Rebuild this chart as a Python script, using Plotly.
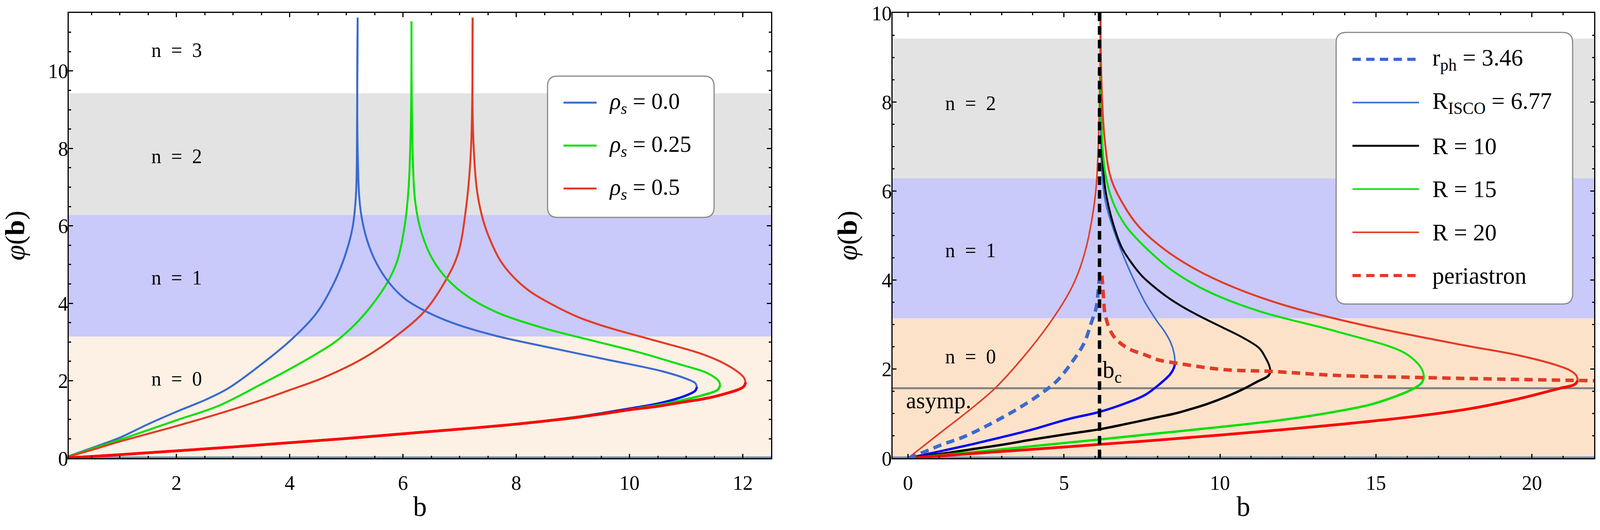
import plotly.graph_objects as go
from plotly.subplots import make_subplots

W, H = 4208, 1358
MT, MB = 33, 184
FONT = "Liberation Serif"

# colours
ROYAL = "#3A6ACF"
THIN_RED = "#E23B25"
GREEN = "#00E000"
PURE_BLUE = "#0000FF"
PURE_RED = "#FF0000"
AXIS0 = "#7088B8"

# bands n = 0, 1, 2 (multiples of pi)
band_edges = [0.0, 3.1416, 6.2832, 9.4248]
asymptote = 1.5708
b_crit = 6.14

# ---------------- left panel: rho_s = 0.0 / 0.25 / 0.5 ----------------
b_r0_in = [0.0, 0.5, 1.0, 1.5, 2.0, 2.5, 2.91, 3.47, 4.02, 4.47, 4.75, 4.97, 5.11, 5.17, 5.19, 5.2]
phi_r0_in = [0.0, 0.26, 0.53, 0.88, 1.2, 1.5, 1.8, 2.39, 3.05, 3.74, 4.43, 5.2, 5.96, 6.81, 8.73, 11.38]
b_r0_out = [5.2, 5.2, 5.25, 5.36, 5.53, 5.75, 6.03, 6.42, 6.92, 7.64, 8.48, 9.59, 10.59, 11.04, 11.16, 11.19]
phi_r0_out = [11.38, 7.96, 6.42, 5.66, 5.04, 4.54, 4.12, 3.78, 3.47, 3.16, 2.89, 2.55, 2.24, 2.03, 1.94, 1.84]
b_r0_low = [11.19, 11.16, 11.0, 10.75, 10.5, 10.0, 9.5, 9.0, 8.0, 7.0, 6.0, 5.0, 4.0, 3.0, 2.0, 1.0, 0.0]
phi_r0_low = [1.84, 1.74, 1.62, 1.5, 1.41, 1.28, 1.16, 1.05, 0.88, 0.75, 0.63, 0.51, 0.4, 0.29, 0.19, 0.09, 0.0]

b_r25_in = [0.0, 0.5, 0.97, 2.0, 2.74, 3.51, 4.0, 4.5, 4.8, 5.15, 5.45, 5.73, 5.9, 6.03, 6.1, 6.14, 6.15]
phi_r25_in = [0.0, 0.24, 0.46, 0.98, 1.35, 1.92, 2.3, 2.72, 3.0, 3.45, 3.95, 4.55, 5.1, 6.0, 7.0, 8.7, 11.28]
b_r25_out = [6.15, 6.17, 6.22, 6.33, 6.53, 6.81, 7.2, 7.7, 8.48, 9.31, 10.15, 10.87, 11.37, 11.57, 11.6]
phi_r25_out = [11.28, 7.96, 6.58, 5.81, 5.12, 4.58, 4.12, 3.74, 3.36, 3.05, 2.74, 2.43, 2.2, 2.0, 1.89]
b_r25_low = [11.6, 11.56, 11.3, 11.0, 10.5, 10.0, 9.5, 9.0, 8.0, 7.0, 6.0, 5.0, 4.0, 3.0, 2.0, 1.0, 0.0]
phi_r25_low = [1.89, 1.77, 1.63, 1.52, 1.37, 1.26, 1.15, 1.05, 0.88, 0.75, 0.63, 0.51, 0.4, 0.29, 0.19, 0.09, 0.0]

b_r50_in = [0.0, 0.5, 1.0, 2.0, 2.91, 3.5, 4.0, 4.58, 5.31, 5.92, 6.39, 6.75, 6.97, 7.11, 7.2, 7.23]
phi_r50_in = [0.0, 0.21, 0.43, 0.83, 1.22, 1.5, 1.76, 2.07, 2.59, 3.2, 3.81, 4.58, 5.27, 6.42, 7.96, 11.38]
b_r50_out = [7.23, 7.24, 7.31, 7.42, 7.55, 7.72, 7.95, 8.25, 8.62, 9.1, 9.59, 10.42, 11.26, 11.64, 11.92, 12.02, 12.05]
phi_r50_out = [11.38, 8.34, 6.88, 6.12, 5.6, 5.1, 4.68, 4.3, 3.98, 3.64, 3.39, 3.05, 2.7, 2.47, 2.22, 2.08, 1.96]
b_r50_low = [12.05, 12.01, 11.6, 11.3, 11.0, 10.5, 10.0, 9.5, 9.0, 8.0, 7.0, 6.0, 5.0, 4.0, 3.0, 2.0, 1.0, 0.0]
phi_r50_low = [1.96, 1.84, 1.63, 1.53, 1.46, 1.34, 1.25, 1.14, 1.04, 0.88, 0.75, 0.63, 0.51, 0.4, 0.29, 0.19, 0.09, 0.0]

left_labels = ["n\u2002=\u20023", "n\u2002=\u20022", "n\u2002=\u20021", "n\u2002=\u20020"]
left_label_y = [10.54, 7.8, 4.66, 2.05]
left_legend = ["<i>ρ</i><sub><i>s</i></sub> = 0.0",
               "<i>ρ</i><sub><i>s</i></sub> = 0.25",
               "<i>ρ</i><sub><i>s</i></sub> = 0.5"]

# ---------------- right panel: emission radii ----------------
b_rph = [0.0, 0.45, 1.11, 1.79, 2.67, 3.47, 4.22, 4.78, 5.28, 5.65, 5.87, 6.03, 6.09, 6.13]
phi_rph = [0.0, 0.12, 0.31, 0.48, 0.78, 1.09, 1.43, 1.74, 2.18, 2.59, 3.03, 3.37, 3.71, 4.0]

b_isco_low = [0.0, 1.0, 2.04, 3.0, 3.91, 5.15, 6.14, 7.0, 7.6, 8.06, 8.4, 8.52, 8.56]
phi_isco_low = [0.0, 0.15, 0.31, 0.47, 0.63, 0.88, 1.04, 1.24, 1.42, 1.66, 1.88, 2.02, 2.14]
b_isco_up = [8.56, 8.53, 8.42, 8.22, 7.98, 7.6, 7.25, 6.93, 6.67, 6.34, 6.21, 6.18, 6.17]
phi_isco_up = [2.14, 2.35, 2.6, 2.85, 3.08, 3.5, 3.99, 4.5, 4.97, 5.73, 6.49, 8.0, 10.0]

b_r10_low = [0.0, 1.0, 2.04, 3.0, 4.0, 5.0, 6.14, 7.0, 8.0, 8.6, 9.1, 9.6, 10.2, 10.77, 11.2, 11.55, 11.62]
phi_r10_low = [0.0, 0.09, 0.2, 0.3, 0.42, 0.53, 0.65, 0.77, 0.92, 1.01, 1.11, 1.22, 1.38, 1.56, 1.72, 1.85, 1.95]
b_r10_up = [11.62, 11.58, 11.45, 11.26, 10.7, 10.1, 9.46, 8.8, 8.31, 7.8, 7.49, 7.1, 6.84, 6.51, 6.31, 6.2, 6.17]
phi_r10_up = [1.95, 2.08, 2.27, 2.47, 2.72, 2.93, 3.15, 3.4, 3.62, 3.9, 4.1, 4.45, 4.75, 5.43, 6.11, 7.5, 10.0]

b_r15_low = [0.0, 2.0, 4.0, 6.14, 8.06, 10.0, 12.0, 13.5, 14.8, 15.6, 16.2, 16.45, 16.54]
phi_r15_low = [0.0, 0.13, 0.27, 0.42, 0.56, 0.7, 0.86, 1.02, 1.2, 1.38, 1.56, 1.68, 1.81]
b_r15_up = [16.54, 16.5, 16.35, 15.85, 13.72, 11.26, 9.6, 8.5, 7.66, 7.0, 6.6, 6.35, 6.22, 6.17]
phi_r15_up = [1.81, 1.95, 2.12, 2.39, 2.85, 3.3, 3.75, 4.2, 4.7, 5.2, 5.7, 6.3, 7.2, 10.0]

b_r20_low = [0.0, 2.0, 4.0, 6.14, 8.06, 10.0, 12.0, 14.0, 16.15, 18.0, 19.43, 20.3, 20.9, 21.38, 21.47]
phi_r20_low = [0.0, 0.1, 0.2, 0.31, 0.41, 0.52, 0.64, 0.77, 0.93, 1.11, 1.31, 1.46, 1.57, 1.66, 1.75]
b_r20_up = [21.47, 21.42, 21.2, 20.74, 19.5, 17.79, 14.52, 12.0, 10.4, 9.2, 8.2, 7.4, 6.9, 6.5, 6.3, 6.2, 6.17]
phi_r20_up = [1.75, 1.86, 1.98, 2.1, 2.32, 2.54, 3.0, 3.45, 3.85, 4.25, 4.7, 5.2, 5.7, 6.3, 7.2, 8.5, 10.0]
b_r20_in = [0.0, 0.98, 2.04, 2.79, 3.66, 4.53, 5.15, 5.45, 5.7, 5.88, 6.02, 6.1, 6.15, 6.17]
phi_r20_in = [0.0, 0.54, 1.12, 1.57, 2.24, 3.02, 3.7, 4.15, 4.7, 5.3, 6.0, 7.0, 8.5, 10.0]

b_peri = [6.22, 6.27, 6.33, 6.58, 7.02, 7.64, 8.01, 8.56, 10.1, 11.62, 13.7, 16.54, 19.43, 22.0]
phi_peri = [4.1, 3.6, 3.19, 2.75, 2.48, 2.31, 2.21, 2.14, 1.99, 1.95, 1.86, 1.81, 1.77, 1.74]

right_labels = ["n\u2002=\u20022", "n\u2002=\u20021", "n\u2002=\u20020"]
right_label_y = [7.97, 4.67, 2.28]
right_legend = ["r<sub>ph</sub> = 3.46", "R<sub>ISCO</sub> = 6.77", "R = 10",
                "R = 15", "R = 20", "periastron"]

xr_left = [0.1, 12.5]
yr_left = [0, 11.5]
xr_right = [-0.5, 22.0]
yr_right = [0, 10]


def px(x):
    return x / W


def py(y):
    return (H - MB - y) / (H - MT - MB)


def rounded_box(x0, y0, x1, y1, r):
    # pixel box -> paper path with rounded corners
    rx, ry = r / W, r / (H - MT - MB)
    a, b, c, d = px(x0), py(y1), px(x1), py(y0)  # left, bottom, right, top
    return (f"M{a + rx},{b} L{c - rx},{b} Q{c},{b} {c},{b + ry} "
            f"L{c},{d - ry} Q{c},{d} {c - rx},{d} L{a + rx},{d} "
            f"Q{a},{d} {a},{d - ry} L{a},{b + ry} Q{a},{b} {a + rx},{b} Z")


fig = make_subplots(rows=1, cols=2)


def line(x, y, col, color, width, dash="solid"):
    fig.add_trace(go.Scatter(x=x, y=y, mode="lines", showlegend=False,
                             line=dict(color=color, width=width, dash=dash,
                                       shape="spline", smoothing=1.0)),
                  row=1, col=col)


# zero lines along the b axis
line(xr_left, [0, 0], 1, AXIS0, 9)
line(xr_right, [0, 0], 2, AXIS0, 9)

# left panel
line(b_r0_in, phi_r0_in, 1, ROYAL, 5)
line(b_r25_in, phi_r25_in, 1, GREEN, 5)
line(b_r50_in, phi_r50_in, 1, THIN_RED, 5)
line(b_r0_out, phi_r0_out, 1, ROYAL, 5)
line(b_r25_out, phi_r25_out, 1, GREEN, 5)
line(b_r50_out, phi_r50_out, 1, THIN_RED, 5)
line(b_r0_low, phi_r0_low, 1, PURE_BLUE, 6)
line(b_r25_low, phi_r25_low, 1, GREEN, 6)
line(b_r50_low, phi_r50_low, 1, PURE_RED, 7)

# right panel
line(xr_right, [asymptote, asymptote], 2, "#808080", 5)
line(b_r20_in, phi_r20_in, 2, THIN_RED, 4)
line(b_isco_up, phi_isco_up, 2, ROYAL, 4)
line(b_r10_up, phi_r10_up, 2, "black", 5)
line(b_r15_up, phi_r15_up, 2, GREEN, 5)
line(b_r20_up, phi_r20_up, 2, THIN_RED, 5)
line(b_isco_low, phi_isco_low, 2, PURE_BLUE, 6)
line(b_r10_low, phi_r10_low, 2, "black", 6)
line(b_r15_low, phi_r15_low, 2, GREEN, 6)
line(b_r20_low, phi_r20_low, 2, PURE_RED, 7)
line(b_peri, phi_peri, 2, THIN_RED, 9, "22px,14px")
line(b_rph, phi_rph, 2, ROYAL, 9, "22px,14px")
fig.add_trace(go.Scatter(x=[b_crit, b_crit], y=yr_right, mode="lines", showlegend=False,
                         line=dict(color="black", width=9, dash="22px,13px")),
              row=1, col=2)

# background bands
band_colors_left = ["#FDF0E4", "#C9C9FA", "#E3E3E3"]
band_colors_right = ["#FDE2CA", "#C9C9FA", "#E3E3E3"]
for i in range(3):
    for xref, yref, cols in (("x domain", "y", band_colors_left), ("x2 domain", "y2", band_colors_right)):
        fig.add_shape(type="rect", xref=xref, yref=yref, x0=0, x1=1,
                      y0=band_edges[i], y1=band_edges[i + 1],
                      fillcolor=cols[i], line_width=0, layer="below")

# text labels
for t, y in zip(left_labels, left_label_y):
    fig.add_annotation(x=2.0, y=y, xref="x", yref="y", text=t, showarrow=False,
                       yanchor="middle", font=dict(family=FONT, size=52, color="black"))
for t, y in zip(right_labels, right_label_y):
    fig.add_annotation(x=2.0, y=y, xref="x2", yref="y2", text=t, showarrow=False,
                       yanchor="middle", font=dict(family=FONT, size=52, color="black"))
fig.add_annotation(x=0.99, y=1.3, xref="x2", yref="y2", text="asymp.", showarrow=False,
                   yanchor="middle", font=dict(family=FONT, size=60, color="black"))
fig.add_annotation(x=6.22, y=1.95, xref="x2", yref="y2", text="b<sub>c</sub>", showarrow=False,
                   xanchor="left", yanchor="middle", font=dict(family=FONT, size=62, color="black"))

# hand-drawn legends (rounded frame, long samples)
fig.add_shape(type="path", xref="paper", yref="paper", path=rounded_box(1440, 195, 1878, 557, 26),
              fillcolor="white", line=dict(color="#888888", width=3), layer="above")
left_legend_styles = [(ROYAL, "solid"), (GREEN, "solid"), (THIN_RED, "solid")]
for i, (t, (c, d)) in enumerate(zip(left_legend, left_legend_styles)):
    yy = 263 + 110 * i
    fig.add_shape(type="line", xref="paper", yref="paper", x0=px(1482), x1=px(1569),
                  y0=py(yy), y1=py(yy), line=dict(color=c, width=5, dash=d), layer="above")
    fig.add_annotation(x=px(1600), y=py(yy), xref="paper", yref="paper", text=t,
                       showarrow=False, xanchor="left", yanchor="middle",
                       font=dict(family=FONT, size=60, color="black"))

fig.add_shape(type="path", xref="paper", yref="paper", path=rounded_box(3514, 83, 4136, 779, 26),
              fillcolor="white", line=dict(color="#888888", width=3), layer="above")
right_legend_styles = [(ROYAL, "22px,14px", 8), (ROYAL, "solid", 4), ("black", "solid", 5),
                       (GREEN, "solid", 4), (THIN_RED, "solid", 4), (THIN_RED, "22px,14px", 8)]
for i, (t, (c, d, w)) in enumerate(zip(right_legend, right_legend_styles)):
    yy = 152 + 110.8 * i
    fig.add_shape(type="line", xref="paper", yref="paper", x0=px(3557), x1=px(3732),
                  y0=py(yy), y1=py(yy), line=dict(color=c, width=w, dash=d), layer="above")
    fig.add_annotation(x=px(3765), y=py(yy), xref="paper", yref="paper", text=t,
                       showarrow=False, xanchor="left", yanchor="middle",
                       font=dict(family=FONT, size=62, color="black"))

axis_common = dict(
    showline=True, linecolor="black", linewidth=3, mirror="allticks",
    ticks="inside", ticklen=11, tickwidth=2.5, tickcolor="black",
    showgrid=False, zeroline=False,
    tickfont=dict(family=FONT, size=53, color="black"),
    minor=dict(ticks="inside", ticklen=6, tickwidth=2.5, tickcolor="black", showgrid=False),
    title_font=dict(family=FONT, size=72, color="black"),
)

fig.update_xaxes(**axis_common)
fig.update_yaxes(**axis_common)

fig.update_xaxes(row=1, col=1, domain=[181 / W, 2028 / W], range=xr_left,
                 tick0=0, dtick=2, minor_dtick=0.5, minor_tick0=0,
                 ticklabelstandoff=14, title=dict(text="b", standoff=8))
fig.update_xaxes(row=1, col=2, domain=[2347 / W, 4193 / W], range=xr_right,
                 tick0=0, dtick=5, minor_dtick=1, minor_tick0=0,
                 ticklabelstandoff=14, title=dict(text="b", standoff=8))
fig.update_yaxes(row=1, col=1, range=yr_left, tick0=0, dtick=2, minor_dtick=0.5, minor_tick0=0,
                 ticklabelstandoff=-12, title=dict(text="<i>φ</i>(<b>b</b>)", standoff=52))
fig.update_yaxes(row=1, col=2, range=yr_right, tick0=0, dtick=2, minor_dtick=0.5, minor_tick0=0,
                 ticklabelstandoff=-12, title=dict(text="<i>φ</i>(<b>b</b>)", standoff=16))

fig.update_layout(
    width=W, height=H,
    margin=dict(l=0, r=0, t=MT, b=MB),
    plot_bgcolor="white", paper_bgcolor="white",
    font=dict(family=FONT, color="black"),
    showlegend=False,
)

# fit the fixed-size figure into whatever viewport the page gets
fit_js = """
document.body.style.margin = '0px';
document.body.style.overflow = 'hidden';
var gd = document.getElementById('{plot_id}');
var sx = window.innerWidth / %d, sy = window.innerHeight / %d;
gd.style.transformOrigin = '0 0';
gd.style.transform = 'scale(' + sx + ',' + sy + ')';
""" % (W, H)

fig.write_html("out.html", config={"displayModeBar": False}, post_script=fit_js)
